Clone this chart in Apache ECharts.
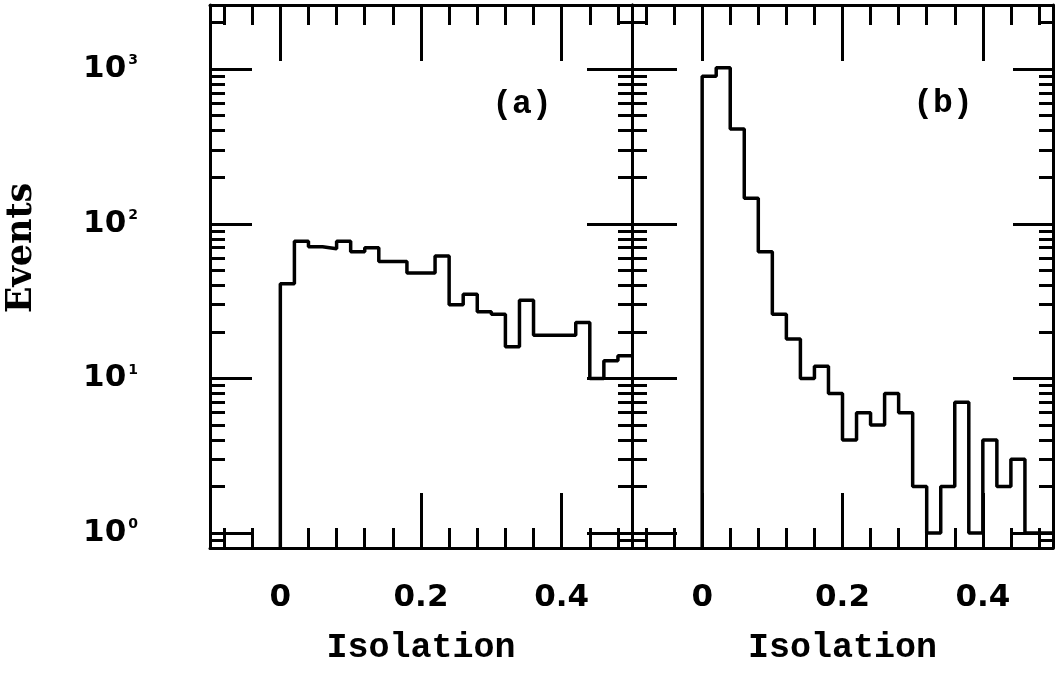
<!DOCTYPE html>
<html>
<head>
<meta charset="utf-8">
<script src="https://cdn.jsdelivr.net/npm/echarts@6/dist/echarts.min.js"></script>
<style>html,body{margin:0;padding:0;background:#fff}#c{width:1056px;height:679px}</style>
</head>
<body>
<div id="c"></div>
<script>
// ---- data ----
const binEdges = [0, 0.02, 0.04, 0.06, 0.08, 0.10, 0.12, 0.14, 0.16, 0.18, 0.20, 0.22, 0.24,
                  0.26, 0.28, 0.30, 0.32, 0.34, 0.36, 0.38, 0.40, 0.42, 0.44, 0.46, 0.48, 0.50];
const countsA = [41, 77, 71, 69, 77, 66, 70, 57, 57, 48, 48, 62, 30, 35, 27, 26, 16, 32, 19, 19, 19, 23, 10, 13, 14];
const countsB = [900, 1020, 410, 146, 66, 26, 18, 10, 12, 8, 4, 6, 5, 8, 6, 2, 1, 2, 7, 1, 4, 2, 3, 1, 1];
const xMajorTicks = [0, 0.2, 0.4];
const xMinorTicks = [-0.08, -0.04, 0.04, 0.08, 0.12, 0.16, 0.24, 0.28, 0.32, 0.36, 0.44, 0.48];
const yMajorTicks = [1, 10, 100, 1000];
const yMinorTicks = [0.9, 2, 3, 4, 5, 6, 7, 8, 9, 20, 30, 40, 50, 60, 70, 80, 90,
                     200, 300, 400, 500, 600, 700, 800, 900, 2000];
const panelLabels = ['(a)', '(b)'];
const xTitle = 'Isolation';
const yTitle = 'Events';

// ---- layout / style ----
const X_MIN = -0.1, X_MAX = 0.5, Y_MIN = 0.8, Y_MAX = 2600;
const BLACK = '#000';
const LW = 3;

function histData(counts) {
  const d = [[binEdges[0], Y_MIN]];
  counts.forEach((c, i) => d.push([binEdges[i], c]));
  d.push([binEdges[binEdges.length - 1], counts[counts.length - 1]]);
  return d;
}

function xAxisDef(g, position, ticks, len, line, labels) {
  const a = {
    gridIndex: g, type: 'value', position: position, min: X_MIN, max: X_MAX,
    axisLine: { show: line, onZero: false, lineStyle: { color: BLACK, width: LW } },
    axisTick: { show: true, inside: true, length: len, customValues: ticks,
                lineStyle: { color: BLACK, width: LW } },
    axisLabel: { show: false },
    splitLine: { show: false }
  };
  if (labels) {
    a.axisLabel = { show: true, customValues: xMajorTicks, formatter: v => String(v),
                    margin: 34, color: BLACK, fontSize: 31, fontWeight: 'bold', fontFamily: 'DejaVu Sans' };
    a.name = xTitle;
    a.nameLocation = 'middle';
    a.nameGap = 83;
    a.nameTextStyle = { color: BLACK, fontSize: 35, fontWeight: 'bold', fontFamily: 'Liberation Mono' };
  }
  return a;
}

function yAxisDef(g, position, ticks, len, line, labels) {
  const a = {
    gridIndex: g, type: 'log', logBase: 10, position: position, min: Y_MIN, max: Y_MAX,
    axisLine: { show: line, onZero: false, lineStyle: { color: BLACK, width: LW } },
    axisTick: { show: true, inside: true, length: len, customValues: ticks,
                lineStyle: { color: BLACK, width: LW } },
    axisLabel: { show: false },
    minorTick: { show: false },
    splitLine: { show: false }
  };
  if (labels) {
    a.axisLabel = {
      show: true, customValues: yMajorTicks, margin: 72,
      formatter: v => '{b|10}{s|' + Math.round(Math.log10(v)) + '}',
      rich: {
        b: { fontSize: 31, fontWeight: 'bold', fontFamily: 'DejaVu Sans', color: BLACK },
        s: { fontSize: 14, fontWeight: 'bold', fontFamily: 'DejaVu Sans', color: BLACK,
             verticalAlign: 'top', padding: [0, 0, 0, 2] }
      }
    };
  }
  return a;
}

const xAxes = [], yAxes = [];
[0, 1].forEach(g => {
  xAxes.push(xAxisDef(g, 'bottom', xMajorTicks, 55, true, true));
  xAxes.push(xAxisDef(g, 'bottom', xMinorTicks, 20, false, false));
  xAxes.push(xAxisDef(g, 'top', xMajorTicks, 56, true, false));
  xAxes.push(xAxisDef(g, 'top', xMinorTicks, 20, false, false));
  yAxes.push(yAxisDef(g, 'left', yMajorTicks, g === 0 ? 42 : 45, true, g === 0));
  yAxes.push(yAxisDef(g, 'left', yMinorTicks, 15, false, false));
  yAxes.push(yAxisDef(g, 'right', yMajorTicks, g === 0 ? 45 : 40, true, false));
  yAxes.push(yAxisDef(g, 'right', yMinorTicks, 14, false, false));
});

const chart = echarts.init(document.getElementById('c'), null, { renderer: 'canvas' });
chart.setOption({
  animation: false,
  backgroundColor: '#fff',
  grid: [
    { left: 210, top: 5, width: 422, height: 543 },
    { left: 632, top: 5, width: 421, height: 543 }
  ],
  xAxis: xAxes,
  yAxis: yAxes,
  series: [
    { type: 'line', xAxisIndex: 0, yAxisIndex: 0, data: histData(countsA), step: 'end',
      symbol: 'none', silent: true, clip: true, lineStyle: { color: BLACK, width: 3.5 } },
    { type: 'line', xAxisIndex: 4, yAxisIndex: 4, data: histData(countsB), step: 'end',
      symbol: 'none', silent: true, clip: true, lineStyle: { color: BLACK, width: 3.5 } }
  ],
  graphic: [
    { type: 'text', x: 22, y: 248, rotation: Math.PI / 2,
      style: { text: yTitle, fill: BLACK, fontSize: 35, fontWeight: 'bold', fontFamily: 'DejaVu Serif',
               align: 'center', verticalAlign: 'middle' } },
    { type: 'text', x: 522, y: 105,
      style: { text: panelLabels[0], fill: BLACK, fontSize: 33, fontWeight: 'bold', fontFamily: 'Liberation Mono',
               align: 'center', verticalAlign: 'middle' } },
    { type: 'text', x: 943, y: 104,
      style: { text: panelLabels[1], fill: BLACK, fontSize: 33, fontWeight: 'bold', fontFamily: 'Liberation Mono',
               align: 'center', verticalAlign: 'middle' } }
  ]
});
</script>
</body>
</html>
